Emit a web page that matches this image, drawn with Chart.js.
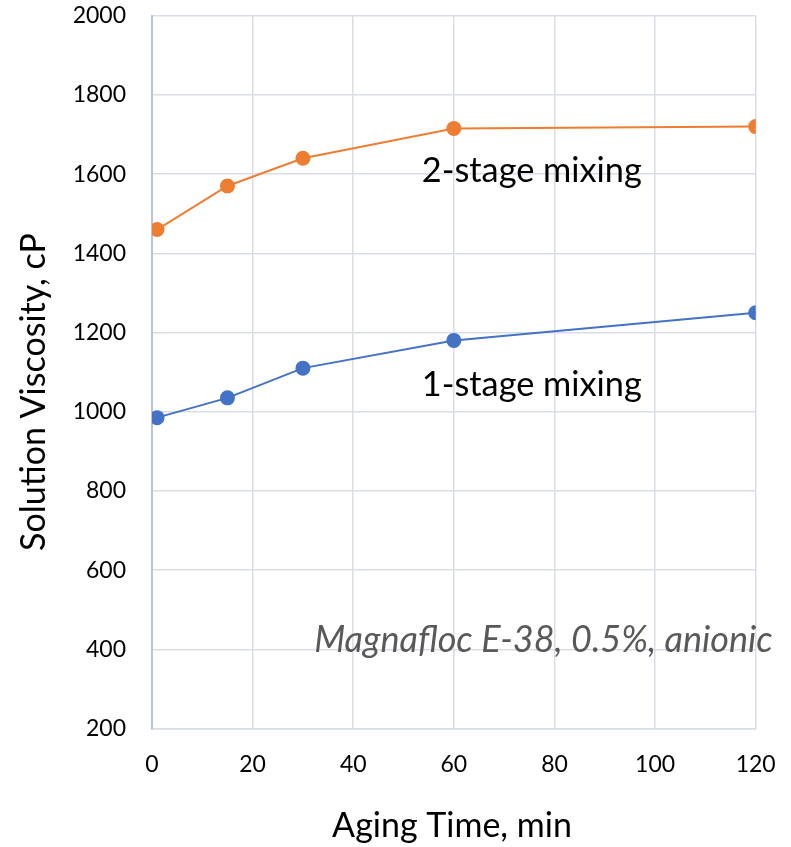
<!DOCTYPE html>
<html>
<head>
<meta charset="utf-8">
<script src="https://cdn.jsdelivr.net/npm/chart.js@4.4.0/dist/chart.umd.min.js"></script>
<style>
  html, body { margin: 0; padding: 0; background: #fff; overflow: hidden; }
  #wrap { width: 791px; height: 847px; }
  canvas { display: block; }
</style>
</head>
<body>
<div id="wrap"><canvas id="chart"></canvas></div>
<script>
// aging time (min)
const agingTime = [1, 15, 30, 60, 120]
// solution viscosity, cP
const twoStage = [1460, 1570, 1640, 1715, 1720]
const oneStage = [985, 1035, 1110, 1180, 1250]
const xTicks = [0, 20, 40, 60, 80, 100, 120]
const yTicks = [200, 400, 600, 800, 1000, 1200, 1400, 1600, 1800, 2000]

const FONT = "Lato, 'Open Sans', sans-serif"

const toPoints = (vals) => agingTime.map((t, i) => ({ x: t, y: vals[i] }))

// text notes placed in data space
const notes = [
    { text: "2-stage mixing", x: 75.5, y: 1581, style: "", size: 34.3, color: "#000" },
    { text: "1-stage mixing", x: 75.5, y: 1040, style: "", size: 34.3, color: "#000" },
    { text: "Magnafloc E-38, 0.5%, anionic", x: 77.8, y: 392, style: "italic ", size: 36, color: "#595959" },
]

const textPlugin = {
    id: "textPlugin",
    afterDraw(chart) {
        const ctx = chart.ctx
        const xs = chart.scales.x
        const ys = chart.scales.y
        ctx.save()
        ctx.textBaseline = "alphabetic"
        ctx.textAlign = "center"
        notes.forEach((n) => {
            ctx.font = n.style + n.size + "px " + FONT
            ctx.fillStyle = n.color
            ctx.fillText(n.text, xs.getPixelForValue(n.x), ys.getPixelForValue(n.y))
        })
        // axis titles
        ctx.fillStyle = "#000"
        ctx.font = "34px " + FONT
        ctx.fillText("Aging Time, min", 452, 837)
        ctx.translate(45, 392)
        ctx.rotate(-Math.PI / 2)
        ctx.fillText("Solution Viscosity, cP", 0, 0)
        ctx.restore()
    },
}

new Chart(document.getElementById("chart"), {
    type: "line",
    data: {
        datasets: [
            {
                label: "2-stage mixing",
                data: toPoints(twoStage),
                borderColor: "#ED7D31",
                backgroundColor: "#ED7D31",
                borderWidth: 2,
                pointRadius: 7.5,
                pointHoverRadius: 7.5,
                pointBorderWidth: 0,
                tension: 0,
            },
            {
                label: "1-stage mixing",
                data: toPoints(oneStage),
                borderColor: "#4472C4",
                backgroundColor: "#4472C4",
                borderWidth: 2,
                pointRadius: 7.5,
                pointHoverRadius: 7.5,
                pointBorderWidth: 0,
                tension: 0,
            },
        ],
    },
    options: {
        responsive: true,
        maintainAspectRatio: false,
        animation: false,
        layout: { padding: { top: 15.7, right: 35.3, left: 0, bottom: 0 } },
        plugins: {
            legend: { display: false },
            tooltip: { enabled: false },
        },
        scales: {
            x: {
                type: "linear",
                min: 0,
                max: 120,
                afterBuildTicks: (axis) => { axis.ticks = xTicks.map((v) => ({ value: v })) },
                afterFit: (axis) => {
                    axis.height = 118.5
                    axis.paddingLeft = 0
                    axis.paddingRight = 0
                },
                grid: { color: "#d9dee6", lineWidth: 1.5, drawTicks: false },
                border: { color: "#d9dee6", width: 1.5 },
                ticks: { color: "#000", font: { family: FONT, size: 23 }, padding: 22 },
            },
            y: {
                min: 200,
                max: 2000,
                afterBuildTicks: (axis) => { axis.ticks = yTicks.map((v) => ({ value: v })) },
                afterFit: (axis) => {
                    axis.width = 152
                    axis.paddingTop = 0
                    axis.paddingBottom = 0
                },
                grid: { color: "#d9dee6", lineWidth: 1.5, drawTicks: false },
                border: { color: "#b9c4d6", width: 2 },
                ticks: {
                    color: "#000",
                    font: { family: FONT, size: 23 },
                    padding: 26,
                    callback: (v) => String(v),
                },
            },
        },
    },
    plugins: [textPlugin],
})
</script>
</body>
</html>
